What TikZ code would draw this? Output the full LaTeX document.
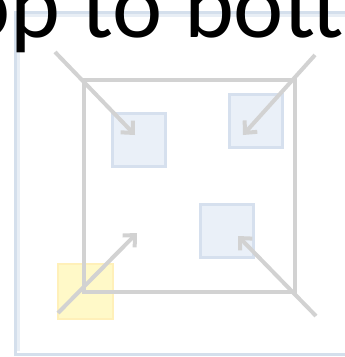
\documentclass[tikz,border=0pt]{standalone}
\usepackage{fontspec}
\setmainfont{Carlito}
\usetikzlibrary{arrows.meta}
\definecolor{linegray}{RGB}{210,210,210}
\definecolor{boxfill}{RGB}{234,240,248}
\definecolor{boxline}{RGB}{214,224,238}
\definecolor{framecol}{RGB}{212,223,236}
\definecolor{shadecol}{RGB}{232,238,245}
\definecolor{noteyellow}{RGB}{255,249,200}
\definecolor{noteedge}{RGB}{255,240,185}
\tikzset{
  bluebox/.style={draw=boxline, fill=boxfill, line width=3pt, minimum size=53pt, inner sep=0pt},
  yellowbox/.style={draw=noteedge, fill=noteyellow, line width=2pt, minimum size=55pt, inner sep=0pt},
  grayarrow/.style={draw=linegray, line width=4pt, ->},
}
\begin{document}
\begin{tikzpicture}[x=1pt, y=-1pt, >={Straight Barb[length=9pt,width=17pt]}]
      \useasboundingbox (0,0) rectangle (345,357);
      \clip (0,0) rectangle (345,357);
      % slide frame
      \draw[shadecol, line width=3pt] (18,15) -- (360,15);
      \draw[shadecol, line width=3pt] (18,15) -- (18,351);
      \draw[framecol, line width=3pt] (360,12) -- (15,12) -- (15,354) -- (360,354);
      % title
      \node[anchor=base west, inner sep=0pt, font=\fontsize{95}{95}\selectfont] (title) at (-40,37) {op to bott};
      % squares
      \node[yellowbox] (yel) at (85.5,291) {};
      \draw[linegray, line width=4pt] (84,80) rectangle (295,292);
      \node[bluebox] (boxa) at (139,139.5) {};
      \node[bluebox] (boxb) at (256,121) {};
      \node[bluebox] (boxc) at (227,231) {};
      % arrows
      \coordinate (tl) at (55,52);
      \coordinate (tr) at (315,55);
      \coordinate (bl) at (58,313);
      \coordinate (br) at (316,316);
      \coordinate (mid) at (137,233);
      \draw[grayarrow] (tl) -- (135,135);
      \draw[grayarrow] (tr) -- (243,135);
      \draw[grayarrow] (bl) -- (mid);
      \draw[grayarrow] (br) -- (238,236);
\end{tikzpicture}
\end{document}
